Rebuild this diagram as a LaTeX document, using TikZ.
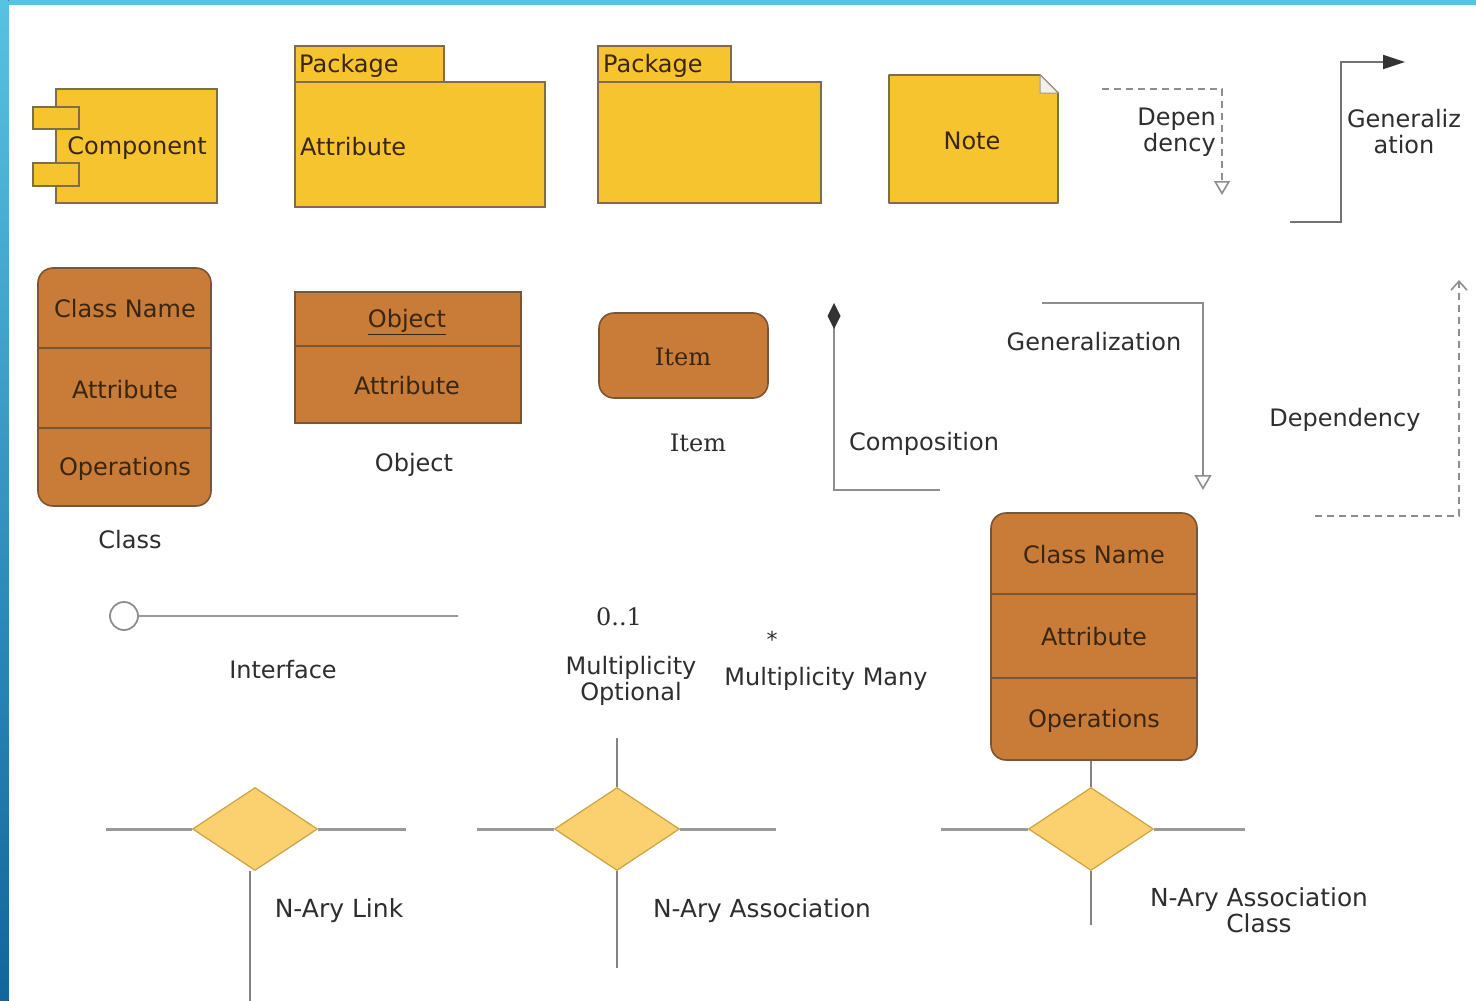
\documentclass[tikz,border=0pt]{standalone}
\usepackage{fontspec}
\setmainfont{DejaVu Sans}
\newfontfamily\dvserif{DejaVu Serif}
\usetikzlibrary{arrows.meta,shapes.geometric}
\definecolor{ylw}{HTML}{F6C42F}
\definecolor{ybord}{HTML}{7D6D48}
\definecolor{brn}{HTML}{C97B38}
\definecolor{bbord}{HTML}{7A5534}
\definecolor{dmd}{HTML}{FBD06E}
\definecolor{dbord}{HTML}{C9A443}
\definecolor{lgray}{HTML}{8E8E8E}
\definecolor{labelc}{HTML}{2E2E2E}
\definecolor{boxtext}{HTML}{3A2610}
\definecolor{frameTop}{HTML}{58C2E2}
\definecolor{frameBot}{HTML}{12659D}
\begin{document}
\begin{tikzpicture}[x=1pt,y=-1pt,
  ybox/.style={draw=ybord,fill=ylw,line width=1.6pt,inner sep=0},
  bbox/.style={draw=bbord,fill=brn,line width=1.6pt,inner sep=0},
  rbox/.style={bbox,rounded corners=15pt},
  lbl/.style={font=\fontsize{24}{26}\selectfont,text=labelc,inner sep=0,align=center},
  btxt/.style={font=\fontsize{24}{26}\selectfont,text=boxtext,inner sep=0},
  sbtxt/.style={font=\dvserif\fontsize{24}{26}\selectfont,text=boxtext,inner sep=0},
  slbl/.style={font=\dvserif\fontsize{24}{26}\selectfont,text=labelc,inner sep=0},
  nd/.style={diamond,draw=dbord,fill=dmd,line width=1.2pt,inner sep=0,minimum width=125pt,minimum height=83pt},
  conn/.style={draw=lgray,line width=2pt},
  hconn/.style={draw=lgray!90,line width=3pt},
  vconn/.style={draw=lgray!110,line width=1.4pt},
  depline/.style={draw=lgray,line width=1.8pt,dash pattern=on 7pt off 5pt}
]
% background and frame
\fill[white] (0,0) rectangle (1476,1001);
\useasboundingbox (0,0) rectangle (1476,1001);
\fill[frameTop] (0,0) rectangle (1476,4.5);
\fill[top color=frameTop,bottom color=frameBot] (0,0) rectangle (8.5,1001);

% Component
\node[ybox,minimum width=161pt,minimum height=114pt] (comp) at (136.5,146) {};
\node[ybox,minimum width=46pt,minimum height=22pt] (tab1) at (56,118) {};
\node[ybox,minimum width=46pt,minimum height=23pt] (tab2) at (56,174.5) {};
\node[btxt] (compt) at (137,148) {Component};

% Package 1
\node[ybox,minimum width=149pt,minimum height=36pt] (p1tab) at (369.5,64) {};
\node[ybox,minimum width=250pt,minimum height=125pt] (p1body) at (420,144.5) {};
\node[btxt,anchor=west] (p1t) at (299,66) {Package};
\node[btxt,anchor=west] (p1a) at (300,147) {Attribute};

% Package 2
\node[ybox,minimum width=133pt,minimum height=36pt] (p2tab) at (664.5,64) {};
\node[ybox,minimum width=223pt,minimum height=121pt] (p2body) at (709.5,142.5) {};
\node[btxt,anchor=west] (p2t) at (603,66) {Package};

% Note
\filldraw[draw=ybord,fill=ylw,line width=1.6pt,line join=round] (889,75) -- (1040,75) -- (1058,93) -- (1058,203) -- (889,203) -- cycle;
\filldraw[draw=ybord!70,fill=gray!12,line width=1pt,line join=round] (1040,75) -- (1040,93) -- (1058,93) -- cycle;
\node[btxt] (notet) at (972,141) {Note};

% Dependency (top)
\coordinate (d1s) at (1102,89);
\coordinate (d1c) at (1222,89);
\coordinate (d1e) at (1222,195);
\draw[depline,-{Triangle[open,length=14pt,width=16pt,line width=1.6pt]}] (d1s) -- (d1c) -- (d1e);
\node[lbl,align=right,anchor=east] (d1t) at (1216,132) {Depen\\dency};

% Generalization (top)
\coordinate (g1s) at (1290,222);
\coordinate (g1a) at (1341,222);
\coordinate (g1b) at (1341,62);
\coordinate (g1e) at (1405,62);
\draw[conn,draw=gray!90!black,-{Triangle[length=22pt,width=14pt,color=black!80]}] (g1s) -- (g1a) -- (g1b) -- (g1e);
\node[lbl] (g1t) at (1404,132) {Generaliz\\ation};

% Class (left)
\node[rbox,minimum width=173pt,minimum height=238pt] (cls1) at (124.5,387) {};
\draw[draw=bbord,line width=1.6pt] (cls1.west |- 0,348) -- (cls1.east |- 0,348);
\draw[draw=bbord,line width=1.6pt] (cls1.west |- 0,428) -- (cls1.east |- 0,428);
\node[btxt] (cls1n) at (125,309) {Class Name};
\node[btxt] (cls1a) at (125,390) {Attribute};
\node[btxt] (cls1o) at (125,469) {Operations};
\node[lbl] (cls1l) at (130,540) {Class};

% Object
\node[bbox,minimum width=226pt,minimum height=131pt] (obj) at (408,357.5) {};
\draw[draw=bbord,line width=1.6pt] (obj.west |- 0,346) -- (obj.east |- 0,346);
\node[btxt] (objn) at (407,322) {\underline{Object}};
\node[btxt] (obja) at (407,386) {Attribute};
\node[lbl] (objl) at (414,465) {Object};

% Item
\node[rbox,minimum width=169pt,minimum height=85pt] (item) at (683.5,355.5) {};
\node[sbtxt] (itemt) at (683,357) {Item};
\node[slbl] (iteml) at (698,443) {Item};

% Composition
\coordinate (cps) at (834,303);
\coordinate (cpc) at (834,490);
\coordinate (cpe) at (940,490);
\draw[conn,{Diamond[length=26pt,width=13pt,color=black!80]}-] (cps) -- (cpc) -- (cpe);
\node[lbl] (cpt) at (924,444) {Composition};

% Generalization (middle)
\coordinate (g2s) at (1042,303);
\coordinate (g2c) at (1203,303);
\coordinate (g2e) at (1203,490);
\draw[conn,-{Triangle[open,length=15pt,width=17pt,line width=1.6pt,fill=white]}] (g2s) -- (g2c) -- (g2e);
\node[lbl] (g2t) at (1094,342) {Generalization};

% Dependency (middle)
\coordinate (d2s) at (1315,516);
\coordinate (d2c) at (1459,516);
\coordinate (d2e) at (1459,280);
\draw[depline,-{Straight Barb[length=9pt,width=16pt,line width=1.6pt]}] (d2s) -- (d2c) -- (d2e);
\node[lbl] (d2t) at (1345,420) {Dependency};

% Class (right)
\node[rbox,minimum width=206pt,minimum height=247pt] (cls2) at (1094,636.5) {};
\draw[draw=bbord,line width=1.6pt] (cls2.west |- 0,594) -- (cls2.east |- 0,594);
\draw[draw=bbord,line width=1.6pt] (cls2.west |- 0,678) -- (cls2.east |- 0,678);
\node[btxt] (cls2n) at (1094,555) {Class Name};
\node[btxt] (cls2a) at (1094,637) {Attribute};
\node[btxt] (cls2o) at (1094,721) {Operations};

% Interface
\node[circle,draw=lgray,line width=1.8pt,fill=white,minimum size=28pt,inner sep=0] (ifc) at (124,616) {};
\coordinate (ifce) at (458,616);
\draw[hconn,line width=2.4pt] (ifc) -- (ifce);
\node[lbl] (ifcl) at (283,670) {Interface};

% Multiplicity
\node[slbl] (m01) at (619,617) {0..1};
\node[lbl] (mopt) at (631,681) {Multiplicity\\Optional};
\node[lbl,font=\fontsize{22}{24}\selectfont] (mst) at (772,639) {*};
\node[lbl] (mmany) at (826,679) {Multiplicity Many};

% N-Ary Link
\node[nd] (na1) at (255,829) {};
\coordinate (na1l) at (106,829);
\coordinate (na1r) at (406,829);
\coordinate (na1b) at (250,1001);
\draw[hconn] (na1.west) -- (na1l);
\draw[hconn] (na1.east) -- (na1r);
\draw[vconn] (na1.south -| na1b) -- (na1b);
\node[lbl,font=\fontsize{25}{27}\selectfont] (na1t) at (339,911) {N-Ary Link};

% N-Ary Association
\node[nd] (na2) at (617,829) {};
\coordinate (na2l) at (477,829);
\coordinate (na2r) at (776,829);
\coordinate (na2t0) at (617,738);
\coordinate (na2b) at (617,968);
\draw[hconn] (na2.west) -- (na2l);
\draw[hconn] (na2.east) -- (na2r);
\draw[vconn] (na2.north) -- (na2t0);
\draw[vconn] (na2.south) -- (na2b);
\node[lbl,font=\fontsize{24.8}{26}\selectfont] (na2t) at (762,911) {N-Ary Association};

% N-Ary Association Class
\node[nd] (na3) at (1091,829) {};
\coordinate (na3l) at (941,829);
\coordinate (na3r) at (1245,829);
\coordinate (na3b) at (1091,925);
\draw[hconn] (na3.west) -- (na3l);
\draw[hconn] (na3.east) -- (na3r);
\draw[vconn] (na3.north) -- (cls2.south -| na3);
\draw[vconn] (na3.south) -- (na3b);
\node[lbl,font=\fontsize{24.8}{25.5}\selectfont] (na3t) at (1259,910) {N-Ary Association\\Class};
\end{tikzpicture}
\end{document}
